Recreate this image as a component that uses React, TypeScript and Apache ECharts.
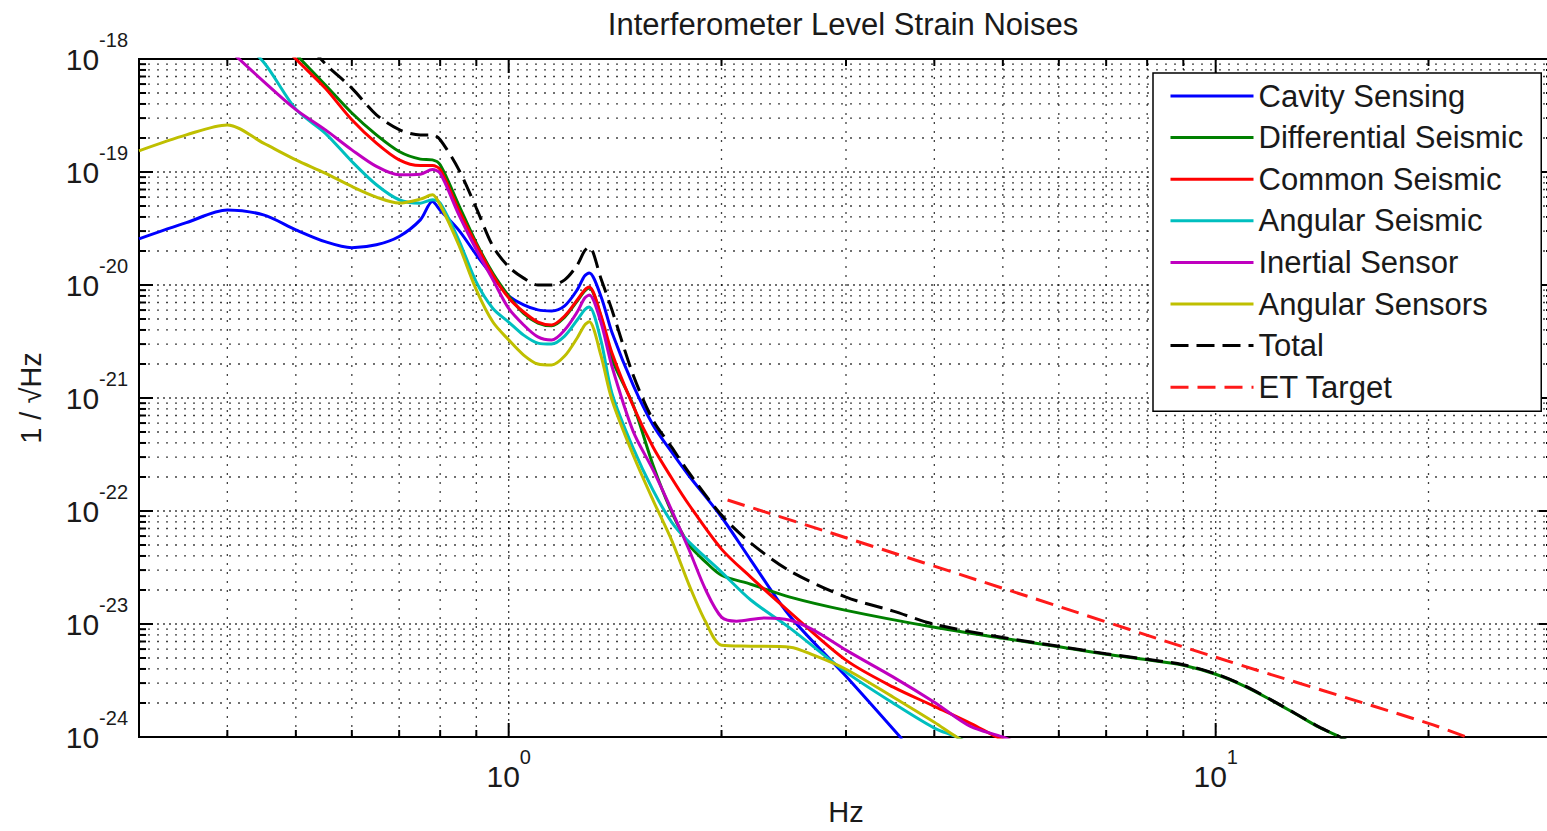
import React, { useEffect, useRef } from 'react';
import * as echarts from 'echarts';

type Pt = [number, number];

const FONT = '"Liberation Sans", Arial, Helvetica, sans-serif';

// Frequency (Hz) vs strain noise (1/sqrt(Hz))
const cavitySensing: Pt[] = [
  [0.3, 2.56e-20], [0.35, 3.56e-20], [0.4, 4.6e-20], [0.45, 4.17e-20], [0.5, 3.08e-20],
  [0.55, 2.42e-20], [0.6, 2.14e-20], [0.65, 2.27e-20], [0.7, 2.69e-20], [0.75, 3.77e-20],
  [0.78, 5.48e-20], [0.8, 4.6e-20], [0.85, 3.06e-20], [0.9, 1.85e-20], [0.95, 1.19e-20],
  [1.0, 8.0e-21], [1.05, 6.67e-21], [1.1, 6.02e-21], [1.15, 5.9e-21], [1.2, 6.54e-21],
  [1.25, 9.05e-21], [1.28, 1.2e-20], [1.3, 1.28e-20], [1.35, 8.0e-21], [1.4, 3.8e-21],
  [1.5, 1.3e-21], [1.6, 5.78e-22], [1.7, 3.33e-22], [1.8, 2.04e-22], [2.0, 8.85e-23],
  [2.2, 3.68e-23], [2.5, 1.17e-23], [3.0, 3.45e-24], [3.6, 9.6e-25],
];

const differentialSeismic: Pt[] = [
  [0.45, 2.2e-18], [0.5, 1.1e-18], [0.55, 5.92e-19], [0.6, 3.33e-19], [0.65, 2.13e-19],
  [0.7, 1.52e-19], [0.75, 1.3e-19], [0.78, 1.28e-19], [0.8, 1.16e-19], [0.85, 5.1e-20],
  [0.9, 2.36e-20], [0.95, 1.27e-20], [1.0, 8.0e-21], [1.05, 5.6e-21], [1.1, 4.6e-21],
  [1.15, 4.35e-21], [1.2, 5.2e-21], [1.25, 7.2e-21], [1.28, 8.8e-21], [1.3, 9.4e-21],
  [1.35, 5.3e-21], [1.4, 2.2e-21], [1.5, 8.67e-22], [1.6, 2.55e-22], [1.7, 9.8e-23],
  [1.8, 5.0e-23], [1.9, 3.53e-23], [2.0, 2.7e-23], [2.2, 2.25e-23], [2.5, 1.73e-23],
  [3.0, 1.32e-23], [4.0, 9.35e-24], [5.0, 7.48e-24], [6.0, 6.29e-24], [7.0, 5.4e-24],
  [8.0, 4.83e-24], [9.0, 4.32e-24], [10, 3.59e-24], [11, 2.81e-24], [12, 2.11e-24],
  [13, 1.59e-24], [14, 1.22e-24], [15, 1e-24], [16, 8e-25],
];

const commonSeismic: Pt[] = [
  [0.45, 2.0e-18], [0.5, 1.0e-18], [0.55, 5.53e-19], [0.6, 2.9e-19], [0.65, 1.8e-19],
  [0.7, 1.28e-19], [0.75, 1.14e-19], [0.78, 1.14e-19], [0.8, 1.05e-19], [0.85, 4.6e-20],
  [0.9, 2.27e-20], [0.95, 1.22e-20], [1.0, 7.69e-21], [1.05, 5.77e-21], [1.1, 4.7e-21],
  [1.15, 4.43e-21], [1.2, 5.32e-21], [1.25, 7.37e-21], [1.28, 9.0e-21], [1.3, 9.6e-21],
  [1.35, 5.43e-21], [1.4, 2.5e-21], [1.5, 8.5e-22], [1.6, 3.68e-22], [1.7, 1.96e-22],
  [1.8, 1.13e-22], [2.0, 4.6e-23], [2.2, 2.6e-23], [2.5, 1.27e-23], [3.0, 4.79e-24],
  [3.5, 2.76e-24], [4.0, 1.87e-24], [4.5, 1.32e-24], [4.9, 1e-24], [5.2, 8.5e-25],
];

const angularSeismic: Pt[] = [
  [0.4, 1.9e-18], [0.45, 9.4e-19], [0.5, 3.6e-19], [0.55, 2.21e-19], [0.6, 1.24e-19],
  [0.65, 7.71e-20], [0.7, 5.68e-20], [0.75, 5.3e-20], [0.78, 5.68e-20], [0.8, 5.3e-20],
  [0.85, 2.5e-20], [0.9, 1.06e-20], [0.95, 6.2e-21], [1.0, 4.7e-21], [1.05, 3.6e-21],
  [1.1, 3.06e-21], [1.15, 3.0e-21], [1.2, 3.53e-21], [1.25, 4.9e-21], [1.28, 6.0e-21],
  [1.3, 6.38e-21], [1.35, 3.26e-21], [1.4, 1.1e-21], [1.5, 3.6e-22], [1.6, 1.53e-22],
  [1.7, 7.98e-23], [1.8, 5.3e-23], [2.0, 2.88e-23], [2.2, 1.63e-23], [2.5, 9.2e-24],
  [3.0, 3.75e-24], [3.5, 1.99e-24], [4.0, 1.2e-24], [4.3, 1e-24], [4.6, 8e-25],
];

const inertialSensor: Pt[] = [
  [0.4, 1.25e-18], [0.45, 6.34e-19], [0.5, 3.56e-19], [0.55, 2.37e-19], [0.6, 1.57e-19],
  [0.65, 1.12e-19], [0.7, 9.44e-20], [0.75, 9.57e-20], [0.78, 1.05e-19], [0.8, 9.73e-20],
  [0.85, 4.2e-20], [0.9, 2.05e-20], [0.95, 1.11e-20], [1.0, 6.2e-21], [1.05, 4.43e-21],
  [1.1, 3.47e-21], [1.15, 3.26e-21], [1.2, 4.0e-21], [1.25, 5.77e-21], [1.28, 7.6e-21],
  [1.3, 8.17e-21], [1.35, 4.7e-21], [1.4, 1.9e-21], [1.5, 5.07e-22], [1.6, 2.31e-22],
  [1.7, 1.02e-22], [1.8, 4.52e-23], [1.9, 2.0e-23], [2.0, 1.15e-23], [2.1, 1.06e-23],
  [2.3, 1.13e-23], [2.5, 1.08e-23], [2.7, 8.83e-24], [3.0, 5.87e-24], [3.5, 3.39e-24],
  [4.0, 2.03e-24], [4.5, 1.24e-24], [5.0, 1e-24], [5.3, 8.5e-25],
];

const angularSensors: Pt[] = [
  [0.3, 1.54e-19], [0.35, 2.13e-19], [0.4, 2.61e-19], [0.45, 1.8e-19], [0.5, 1.28e-19],
  [0.55, 9.77e-20], [0.6, 7.45e-20], [0.65, 6.0e-20], [0.7, 5.31e-20], [0.75, 5.75e-20],
  [0.78, 6.28e-20], [0.8, 5.1e-20], [0.85, 2.26e-20], [0.9, 9.06e-21], [0.95, 4.7e-21],
  [1.0, 3.27e-21], [1.05, 2.4e-21], [1.1, 2.0e-21], [1.15, 1.96e-21], [1.2, 2.35e-21],
  [1.25, 3.4e-21], [1.28, 4.4e-21], [1.3, 4.72e-21], [1.35, 2.4e-21], [1.4, 9.6e-22],
  [1.5, 3.13e-22], [1.6, 1.25e-22], [1.7, 5.53e-23], [1.8, 2.21e-23], [1.9, 1.04e-23],
  [2.0, 6.5e-24], [2.2, 6.37e-24], [2.5, 6.24e-24], [2.7, 5.3e-24], [3.0, 3.98e-24],
  [3.5, 2.25e-24], [4.0, 1.35e-24], [4.3, 1e-24], [4.6, 8e-25],
];

const total: Pt[] = [
  [0.5, 1.8e-18], [0.55, 9.1e-19], [0.6, 5.53e-19], [0.65, 3.21e-19], [0.7, 2.37e-19],
  [0.75, 2.13e-19], [0.78, 2.13e-19], [0.8, 1.93e-19], [0.85, 1.05e-19], [0.9, 4.8e-20],
  [0.95, 2.2e-20], [1.0, 1.45e-20], [1.05, 1.15e-20], [1.1, 1.0e-20], [1.15, 1.0e-20],
  [1.2, 1.11e-20], [1.25, 1.5e-20], [1.28, 2.0e-20], [1.3, 2.17e-20], [1.35, 1.15e-20],
  [1.4, 6.0e-21], [1.5, 1.6e-21], [1.6, 6.38e-22], [1.7, 3.68e-22], [1.8, 2.17e-22],
  [2.0, 9.2e-23], [2.2, 5.2e-23], [2.5, 2.94e-23], [3.0, 1.73e-23], [3.5, 1.3e-23],
  [4.0, 9.95e-24], [5.0, 7.6e-24], [6.0, 6.35e-24], [7.0, 5.45e-24], [8.0, 4.87e-24],
  [9.0, 4.36e-24], [10, 3.62e-24], [11, 2.83e-24], [12, 2.12e-24], [13, 1.6e-24],
  [14, 1.23e-24], [15, 1e-24], [16, 8e-25],
];

const etTarget: Pt[] = [
  [2.04, 1.25e-22], [3, 5.8e-23], [5, 2.07e-23], [10, 5.08e-24], [20, 1.32e-24], [23, 9.6e-25],
];

const seriesNames = [
  'Cavity Sensing', 'Differential Seismic', 'Common Seismic', 'Angular Seismic',
  'Inertial Sensor', 'Angular Sensors', 'Total', 'ET Target',
];
const seriesData = [
  cavitySensing, differentialSeismic, commonSeismic, angularSeismic,
  inertialSensor, angularSensors, total, etTarget,
];
const seriesColors = ['#0000ff', '#008000', '#ff0000', '#00bfbf', '#bf00bf', '#bfbf00', '#000000', '#ff1a1a'];
const seriesDash: (string | number[])[] = ['solid', 'solid', 'solid', 'solid', 'solid', 'solid', [18, 8], [18, 9]];

const X_MIN = 0.3;
const X_MAX = 30;
const Y_MIN = 1e-24;
const Y_MAX = 1e-18;
// ECharts rounds log-axis values to 20 decimals, so y is plotted in units of 1e-24
const Y_UNIT_EXP = -24;
const Y_SCALE = 1e24;

const xGridValues = [0.4, 0.5, 0.6, 0.7, 0.8, 0.9, 1, 2, 3, 4, 5, 6, 7, 8, 9, 10, 20];
const yMantissas = [1, 2, 3, 4, 5, 6, 7, 8, 9];
const yDecades = [-24, -23, -22, -21, -20, -19];

const isDecade = (v: number) => {
  const e = Math.log10(v);
  return Math.abs(e - Math.round(e)) < 1e-6;
};

const powLabel = (offset: number) => (v: number) => {
  const e = Math.log10(v);
  if (Math.abs(e - Math.round(e)) > 1e-6) return '';
  return `{b|10}{s|${Math.round(e) + offset}}`;
};

const labelRich = {
  b: { fontFamily: FONT, fontSize: 30, color: '#1a1a1a', lineHeight: 58, verticalAlign: 'middle' },
  s: { fontFamily: FONT, fontSize: 20, color: '#1a1a1a', verticalAlign: 'top' },
};

export default function App() {
  const ref = useRef<HTMLDivElement>(null);

  useEffect(() => {
    if (!ref.current) return;
    const chart = echarts.init(ref.current, undefined, { renderer: 'svg' });

    const yGridValues: number[] = [];
    yDecades.forEach((d) => yMantissas.forEach((m) => {
      if (!(m === 1 && d === -24)) yGridValues.push(m * Math.pow(10, d - Y_UNIT_EXP));
    }));
    const Y_REF = 1000;

    const vGrid = {
      type: 'custom',
      silent: true,
      z: 1,
      data: xGridValues.map((v) => [v, Y_REF]),
      encode: { x: 0, y: 1 },
      renderItem: (params: any, api: any) => {
        const cs = params.coordSys;
        const v = api.value(0);
        const x = api.coord([v, Y_REF])[0];
        const major = isDecade(v);
        const tl = major ? 14 : 7;
        const top = cs.y;
        const bottom = cs.y + cs.height;
        return {
          type: 'group',
          children: [
            { type: 'line', shape: { x1: x, y1: top, x2: x, y2: bottom }, style: { stroke: '#000', lineWidth: 1.3, lineDash: major ? [2, 4] : [2, 7], opacity: 0.75 } },
            { type: 'line', shape: { x1: x, y1: bottom, x2: x, y2: bottom - tl }, style: { stroke: '#000', lineWidth: 2 } },
            { type: 'line', shape: { x1: x, y1: top, x2: x, y2: top + tl }, style: { stroke: '#000', lineWidth: 2 } },
          ],
        };
      },
    };

    const hGrid = {
      type: 'custom',
      silent: true,
      z: 1,
      data: yGridValues.map((v) => [1, v]),
      encode: { x: 0, y: 1 },
      renderItem: (params: any, api: any) => {
        const cs = params.coordSys;
        const v = api.value(1);
        const y = api.coord([1, v])[1];
        const major = isDecade(v);
        const tl = major ? 14 : 7;
        const left = cs.x;
        const right = cs.x + cs.width;
        return {
          type: 'group',
          children: [
            { type: 'line', shape: { x1: left, y1: y, x2: right, y2: y }, style: { stroke: '#000', lineWidth: 1.3, lineDash: major ? [2, 4] : [2, 7], opacity: 0.75 } },
            { type: 'line', shape: { x1: left, y1: y, x2: left + tl, y2: y }, style: { stroke: '#000', lineWidth: 2 } },
            { type: 'line', shape: { x1: right, y1: y, x2: right - tl, y2: y }, style: { stroke: '#000', lineWidth: 2 } },
          ],
        };
      },
    };

    const lineSeries = seriesNames.map((name, i) => ({
      name,
      type: 'line',
      data: seriesData[i].map(([f, h]) => [f, h * Y_SCALE]),
      symbol: 'none',
      showSymbol: false,
      silent: true,
      clip: true,
      smooth: 0.3,
      z: 3,
      itemStyle: { color: seriesColors[i] },
      lineStyle: { color: seriesColors[i], width: 3, type: seriesDash[i] },
    }));

    chart.setOption({
      animation: false,
      backgroundColor: '#ffffff',
      title: {
        text: 'Interferometer Level Strain Noises',
        left: 843,
        top: 9,
        padding: 0,
        textAlign: 'center',
        textStyle: { fontFamily: FONT, fontSize: 31, fontWeight: 'normal', color: '#1a1a1a' },
      },
      grid: {
        left: 139,
        top: 59,
        width: 1414,
        height: 678,
        outerBoundsMode: 'none',
        containLabel: false,
        show: true,
        borderColor: '#000',
        borderWidth: 2,
        backgroundColor: '#ffffff',
      },
      legend: {
        data: seriesNames,
        orient: 'vertical',
        left: 1153,
        top: 73,
        padding: [6, 18, 7, 16],
        itemWidth: 83,
        itemHeight: 14,
        itemGap: 7.6,
        backgroundColor: '#ffffff',
        borderColor: '#000',
        borderWidth: 1.5,
        selectedMode: false,
        itemStyle: { color: 'rgba(0,0,0,0)', borderWidth: 0, opacity: 0 },
        lineStyle: { width: 3 },
        textStyle: { fontFamily: FONT, fontSize: 31, color: '#1a1a1a', lineHeight: 34 },
      },
      xAxis: {
        type: 'log',
        logBase: 10,
        min: X_MIN,
        max: X_MAX,
        name: 'Hz',
        nameLocation: 'middle',
        nameGap: 60,
        nameTextStyle: { fontFamily: FONT, fontSize: 29, color: '#1a1a1a' },
        axisLine: { show: false },
        axisTick: { show: false },
        splitLine: { show: false },
        minorTick: { show: false },
        axisLabel: { margin: 10, formatter: powLabel(0), rich: labelRich },
      },
      yAxis: {
        type: 'log',
        logBase: 10,
        min: Y_MIN * Y_SCALE,
        max: Y_MAX * Y_SCALE,
        name: '1 / √Hz',
        nameLocation: 'middle',
        nameGap: 94,
        nameTextStyle: { fontFamily: FONT, fontSize: 29, color: '#1a1a1a' },
        axisLine: { show: false },
        axisTick: { show: false },
        splitLine: { show: false },
        minorTick: { show: false },
        axisLabel: { margin: 11, formatter: powLabel(Y_UNIT_EXP), rich: labelRich },
      },
      series: [vGrid, hGrid, ...lineSeries],
    });

    return () => chart.dispose();
  }, []);

  return (
    <div style={{ position: 'fixed', left: 0, top: 0, width: 1547, height: 831, overflow: 'hidden', background: '#fff' }}>
      <div ref={ref} style={{ width: 1547, height: 831 }} />
    </div>
  );
}
